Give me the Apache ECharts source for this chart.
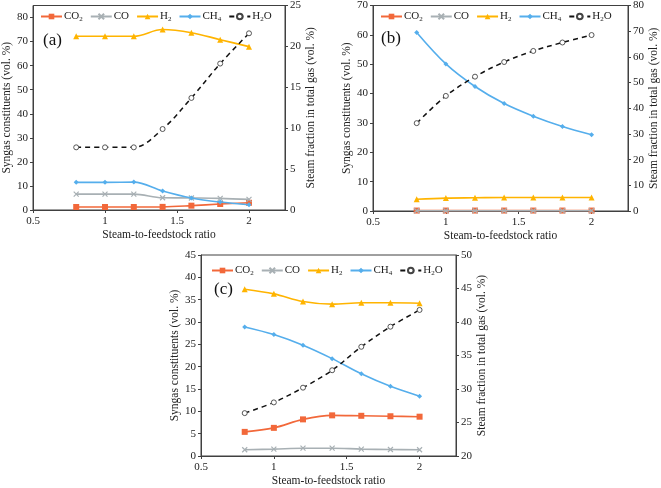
<!DOCTYPE html>
<html>
<head>
<meta charset="utf-8">
<script src="https://cdn.jsdelivr.net/npm/echarts@6/dist/echarts.min.js"></script>
<style>html,body{margin:0;padding:0;background:#fff}#c{width:661px;height:488px}</style>
</head>
<body>
<div id="c"></div>
<script>
const ratios = [0.8, 1.0, 1.2, 1.4, 1.6, 1.8, 2.0];
const xTicks = [0.5, 1, 1.5, 2];
const names = ['CO₂', 'CO', 'H₂', 'CH₄', 'H₂O'];

// Panel (a)
const aCO2 = [1.25, 1.25, 1.25, 1.3, 1.8, 2.5, 3.0];
const aCO  = [6.6, 6.6, 6.6, 5.1, 5.0, 4.85, 4.4];
const aH2  = [72.2, 72.2, 72.2, 75.0, 73.7, 70.8, 67.9];
const aCH4 = [11.5, 11.5, 11.6, 7.9, 5.0, 3.3, 2.2];
const aH2O = [7.66, 7.66, 7.66, 9.9, 13.7, 17.9, 21.6];

// Panel (b)
const bCO2 = [0.15, 0.15, 0.15, 0.15, 0.15, 0.15, 0.15];
const bCO  = [0.1, 0.1, 0.1, 0.1, 0.1, 0.1, 0.1];
const bH2  = [4.0, 4.4, 4.5, 4.6, 4.6, 4.6, 4.6];
const bCH4 = [60.8, 50.1, 42.4, 36.6, 32.3, 28.8, 26.0];
const bH2O = [34.2, 44.8, 52.3, 58.0, 62.3, 65.6, 68.5];

// Panel (c)
const cCO2 = [5.4, 6.3, 8.2, 9.1, 9.0, 8.9, 8.8];
const cCO  = [1.4, 1.55, 1.75, 1.75, 1.55, 1.45, 1.4];
const cH2  = [37.35, 36.3, 34.6, 34.0, 34.3, 34.3, 34.2];
const cCH4 = [28.9, 27.2, 24.8, 21.8, 18.4, 15.6, 13.4];
const cH2O = [26.4, 28.0, 30.2, 32.8, 36.3, 39.3, 41.8];

// Axis tick labels
const aLeftTicks = [0, 10, 20, 30, 40, 50, 60, 70, 80];
const aRightTicks = [0, 5, 10, 15, 20, 25];
const bLeftTicks = [0, 10, 20, 30, 40, 50, 60, 70];
const bRightTicks = [0, 10, 20, 30, 40, 50, 60, 70, 80];
const cLeftTicks = [0, 5, 10, 15, 20, 25, 30, 35, 40, 45];
const cRightTicks = [20, 25, 30, 35, 40, 45, 50];

const FONT = '"Liberation Serif", "Times New Roman", serif';
const AX = '#404040';
const colors = { 'CO₂': '#F2683A', 'CO': '#A8B0B4', 'H₂': '#FFB400', 'CH₄': '#55AEEC', 'H₂O': '#111111' };
const symbols = { 'CO₂': 'rect', 'CO': 'path://M0,0 L10,10 M10,0 L0,10', 'H₂': 'triangle', 'CH₄': 'diamond', 'H₂O': 'circle' };
const sizes = { 'CO₂': 6, 'CO': 5, 'H₂': 6, 'CH₄': 5, 'H₂O': 5 };
const legendRich = { 'CO₂': 'CO{s|2}', 'CO': 'CO', 'H₂': 'H{s|2}', 'CH₄': 'CH{s|4}', 'H₂O': 'H{s|2}O' };

const grids = [
  { left: 32, right: 376, top: 5, bottom: 278 },
  { left: 373, right: 33, top: 5, bottom: 277 },
  { left: 201, right: 205, top: 255, bottom: 29 }
];

function xAxis(gi) {
  return {
    type: 'value', gridIndex: gi, min: 0.5, max: 2.25, interval: 0.5,
    name: 'Steam-to-feedstock ratio', nameLocation: 'middle', nameGap: 19,
    nameTextStyle: { fontFamily: FONT, fontSize: 11.5, color: '#222' },
    axisLine: { lineStyle: { color: AX, width: 1 } },
    axisTick: { show: true, inside: false, length: 3, lineStyle: { color: AX }, customValues: xTicks },
    axisLabel: { fontFamily: FONT, fontSize: 11, color: '#222', margin: 6, customValues: xTicks },
    splitLine: { show: false }
  };
}
function yAxis(gi, pos, min, max, interval, ticks, name, gap) {
  return {
    type: 'value', gridIndex: gi, position: pos, min: min, max: max, interval: interval,
    name: name, nameLocation: 'middle', nameGap: gap, nameRotate: 90,
    nameTextStyle: { fontFamily: FONT, fontSize: 11.5, color: '#222' },
    axisLine: { show: true, lineStyle: { color: AX, width: 1 } },
    axisTick: { show: true, inside: false, length: 3, lineStyle: { color: AX }, customValues: ticks },
    axisLabel: { fontFamily: FONT, fontSize: 11, color: '#222', margin: 5, customValues: ticks },
    splitLine: { show: false }
  };
}

const panelData = [
  [aCO2, aCO, aH2, aCH4, aH2O],
  [bCO2, bCO, bH2, bCH4, bH2O],
  [cCO2, cCO, cH2, cCH4, cH2O]
];

const series = [];
panelData.forEach((arrs, gi) => {
  arrs.forEach((vals, k) => {
    const nm = names[k];
    const isH2O = nm === 'H₂O';
    series.push({
      type: 'line', name: nm, xAxisIndex: gi, yAxisIndex: gi * 2 + (isH2O ? 1 : 0),
      data: ratios.map((x, i) => [x, vals[i]]),
      smooth: 0.35,
      symbol: symbols[nm], symbolSize: sizes[nm], showAllSymbol: true,
      lineStyle: { color: colors[nm], width: isH2O ? 1.5 : 1.6, type: isH2O ? [5, 4] : 'solid' },
      itemStyle: isH2O
        ? { color: '#fff', borderColor: '#444', borderWidth: 0.9 }
        : { color: colors[nm], borderColor: colors[nm], borderWidth: nm === 'CO' ? 1.2 : 0 },
      z: isH2O ? 3 : 2 + k * 0.1,
      animation: false
    });
  });
});

const legendBase = {
  data: names, itemWidth: 21, itemHeight: 7, itemGap: 7,
  formatter: function (n) { return legendRich[n]; },
  textStyle: {
    fontFamily: FONT, fontSize: 11, color: '#222', padding: [0, 0, 0, -3],
    rich: { s: { fontFamily: FONT, fontSize: 7, color: '#222', verticalAlign: 'bottom', padding: [5, 0, 0, 0] } }
  },
  selectedMode: false, padding: 0
};

const option = {
  animation: false,
  backgroundColor: '#fff',
  grid: grids.map(g => Object.assign({ show: true, borderColor: AX, borderWidth: 1, backgroundColor: 'transparent' }, g)),
  xAxis: [xAxis(0), xAxis(1), xAxis(2)],
  yAxis: [
    yAxis(0, 'left', 0, 85, 10, aLeftTicks, 'Syngas constituents (vol. %)', 20),
    yAxis(0, 'right', 0, 25, 5, aRightTicks, 'Steam fraction in total gas (vol. %)', 20),
    yAxis(1, 'left', 0, 70, 10, bLeftTicks, 'Syngas constituents (vol. %)', 20),
    yAxis(1, 'right', 0, 80, 10, bRightTicks, 'Steam fraction in total gas (vol. %)', 20),
    yAxis(2, 'left', 0, 45, 5, cLeftTicks, 'Syngas constituents (vol. %)', 20),
    yAxis(2, 'right', 20, 50, 5, cRightTicks, 'Steam fraction in total gas (vol. %)', 20)
  ],
  legend: [
    Object.assign({}, legendBase, { left: 40, top: 11 }),
    Object.assign({}, legendBase, { left: 380, top: 11 }),
    Object.assign({}, legendBase, { left: 211, top: 265 })
  ],
  graphic: [
    { type: 'text', left: 43, top: 32, style: { text: '(a)', font: '17px ' + FONT, fill: '#111' } },
    { type: 'text', left: 381, top: 30, style: { text: '(b)', font: '17px ' + FONT, fill: '#111' } },
    { type: 'text', left: 214, top: 281, style: { text: '(c)', font: '17px ' + FONT, fill: '#111' } }
  ],
  series: series
};

const chart = echarts.init(document.getElementById('c'), null, { renderer: 'canvas' });
chart.setOption(option);
</script>
</body>
</html>
